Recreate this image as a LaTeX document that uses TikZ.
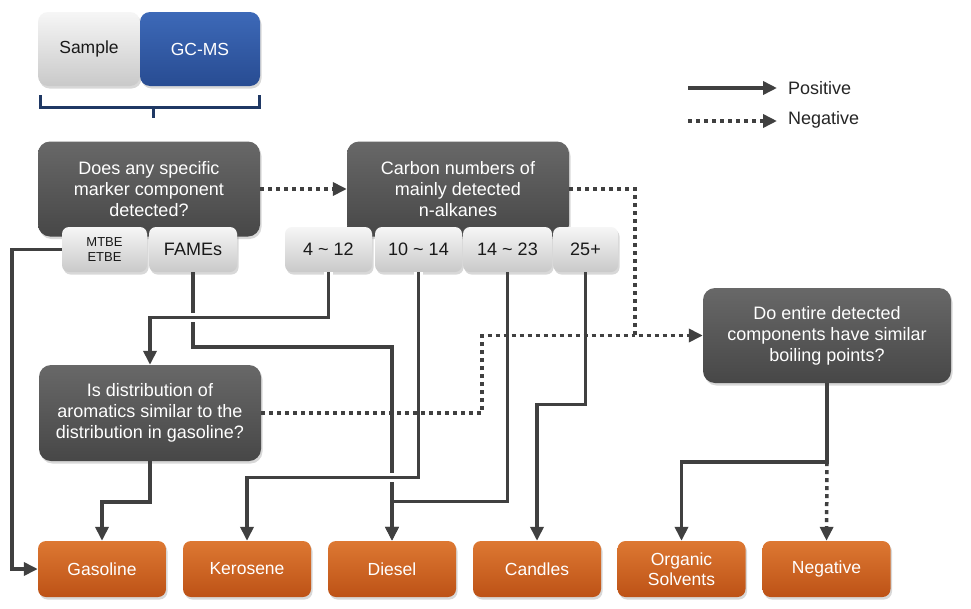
\documentclass[tikz,border=0pt]{standalone}
\usepackage{fontspec}
\setmainfont{Liberation Sans}
\usetikzlibrary{arrows.meta,shadows,calc}
\definecolor{dkT}{HTML}{686868}
\definecolor{dkB}{HTML}{474747}
\definecolor{ltT}{HTML}{F6F6F6}
\definecolor{ltB}{HTML}{C9C9C9}
\definecolor{orT}{HTML}{DD7832}
\definecolor{orB}{HTML}{BD5216}
\definecolor{blT}{HTML}{3D69B8}
\definecolor{blB}{HTML}{284C92}
\definecolor{navy}{HTML}{1F3864}
\definecolor{lineC}{HTML}{404040}
\begin{document}
\begin{tikzpicture}[x=1pt,y=-1pt,
  shad/.style={drop shadow={opacity=0.3,shadow xshift=1.5pt,shadow yshift=-2.5pt}},
  dark/.style={shad,rounded corners=12pt,top color=dkT,bottom color=dkB,draw=none,text=white,
    align=center,minimum width=222pt,minimum height=95pt,inner sep=0pt,font=\fontsize{18}{21}\selectfont},
  tab/.style={shad,rounded corners=7pt,top color=ltT,bottom color=ltB,draw=none,text=black!90,
    align=center,minimum height=45pt,inner sep=0pt,font=\fontsize{18}{20}\selectfont},
  outbox/.style={shad,rounded corners=8pt,top color=orT,bottom color=orB,draw=none,text=white,
    align=center,minimum width=128pt,minimum height=56pt,inner sep=0pt,font=\fontsize{17.5}{20}\selectfont},
  posarrow/.style={draw=lineC,line width=3.5pt,-{Triangle[length=14pt,width=13pt]}},
  negarrow/.style={draw=lineC,line width=3.5pt,dash pattern=on 4pt off 4pt,-{Triangle[length=14pt,width=13pt]}},
  negline/.style={draw=lineC,line width=3.5pt,dash pattern=on 4pt off 4pt},
  gapped/.style={preaction={draw=white,line width=9pt,-}}
]
\useasboundingbox (0,0) rectangle (971,608);
\fill[white] (0,0) rectangle (971,608);

% top: sample / GC-MS
\node[tab,rounded corners=10pt,minimum width=102pt,minimum height=74pt,font=\fontsize{17.5}{20}\selectfont] (sample) at (89,49) {Sample};
\node[shad,rounded corners=10pt,top color=blT,bottom color=blB,draw=none,text=white,
  minimum width=120pt,minimum height=74pt,inner sep=0pt,font=\fontsize{17.5}{20}\selectfont] (gcms) at (200,49) {GC-MS};
\coordinate (brL) at (40,95);
\coordinate (brR) at (259,95);
\coordinate (brM) at (153,107);
\draw[navy,line width=3pt] (brL) -- (brL |- brM) -- (brR |- brM) -- (brR);
\draw[navy,line width=3pt] (brM) -- ++(0,11);

% legend
\coordinate (lp1) at (688,88);
\coordinate (lp2) at (777,88);
\coordinate (ln1) at (688,121);
\coordinate (ln2) at (777,121);
\draw[posarrow] (lp1) -- (lp2);
\draw[negarrow] (ln1) -- (ln2);
\node[anchor=west,inner sep=0pt,text=black!85,font=\fontsize{18}{20}\selectfont] (lpos) at (788,88) {Positive};
\node[anchor=west,inner sep=0pt,text=black!85,font=\fontsize{18}{20}\selectfont] (lneg) at (788,120) {Negative};

% questions
\node[dark] (q1) at (149,189) {Does any specific\\marker component\\detected?};
\node[tab,minimum width=85pt,font=\fontsize{13}{15}\selectfont] (mtbe) at (104.5,249.5) {MTBE\\ETBE};
\node[tab,minimum width=88pt] (fames) at (193,249.5) {FAMEs};

\node[dark] (q2) at (458,189) {Carbon numbers of\\mainly detected\\n-alkanes};
\node[tab,minimum width=87pt] (c1) at (328.5,249.5) {4 {\char"7E} 12};
\node[tab,minimum width=87pt] (c2) at (418.5,249.5) {10 {\char"7E} 14};
\node[tab,minimum width=89pt] (c3) at (507.5,249.5) {14 {\char"7E} 23};
\node[tab,minimum width=65pt] (c4) at (585.5,249.5) {25+};

\node[dark,minimum width=248pt] (q3) at (827,335.5) {Do entire detected\\components have similar\\boiling points?};
\node[dark,minimum height=96pt] (q4) at (150,413) {Is distribution of\\aromatics similar to the\\distribution in gasoline?};

% outcomes
\node[outbox] (gas) at (102,569) {Gasoline};
\node[outbox] (ker) at (247,569) {Kerosene};
\node[outbox] (dsl) at (392,569) {Diesel};
\node[outbox] (cnd) at (537,569) {Candles};
\node[outbox] (org) at (681.5,569) {Organic\\Solvents};
\node[outbox] (ngt) at (826.5,569) {Negative};

% positive connectors
\draw[posarrow] (mtbe.west) -- ++(-50,0) |- (gas.west);
\draw[posarrow] (fames.south) -- ++(0,75) -| (dsl.north);
\draw[posarrow,gapped] (c1.south) -- ++(0,45.5) -| (q4.north);
\draw[posarrow] (c3.south) -- ++(0,229.5) -| (dsl.north);
\draw[posarrow,gapped] (c2.south) -- ++(0,205.5) -| (ker.north);
\draw[posarrow] (c4.south) -- ++(0,132.5) -| (cnd.north);
\draw[posarrow] (q4.south) -- ++(0,41) -| (gas.north);
\draw[posarrow] (q3.south) -- ++(0,79) coordinate (split) -| (org.north);

% negative connectors
\draw[negarrow] (split) -- (ngt.north);
\draw[negarrow] (q1.east) -- (q2.west);
\draw[negarrow] (q2.east) -- ++(66,0) coordinate (jc) |- (q3.west);
\draw[negline] (q4.east) -- ++(221,0) |- (jc |- q3.west);
\end{tikzpicture}
\end{document}
